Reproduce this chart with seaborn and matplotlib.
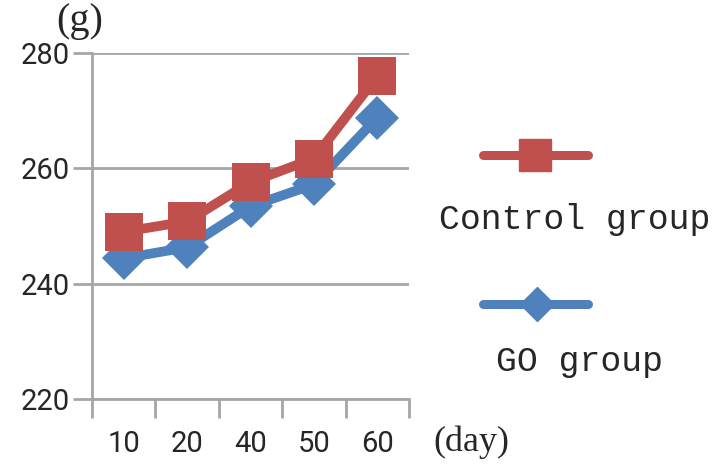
import matplotlib
matplotlib.use("Agg")
import matplotlib.pyplot as plt
import seaborn as sns
import pandas as pd
from matplotlib.lines import Line2D

days = ["10", "20", "40", "50", "60"]
control = [249.0, 250.8, 257.6, 261.7, 276.0]
go = [244.4, 246.3, 253.4, 257.2, 268.8]
series_names = ["Control group", "GO group"]
yticks = [220, 240, 260, 280]

red = "#C0504D"
blue = "#4F81BD"
grid_c = "#A6A6A6"

sns.set_style("white")
plt.rcParams["font.family"] = ["Roboto", "DejaVu Sans"]

fig = plt.figure(figsize=(7.17, 4.68), dpi=100)
ax = fig.add_axes([92/717, 1-399/468, (409-92)/717, (399-53)/468])

df = pd.DataFrame({
    "day": days * 2,
    "weight": control + go,
    "group": [series_names[0]] * len(days) + [series_names[1]] * len(days),
})

sns.lineplot(data=df[df.group == series_names[1]], x="day", y="weight", ax=ax,
             color=blue, lw=7, marker="D", markersize=22, markeredgewidth=0,
             sort=False, legend=False, zorder=3)
sns.lineplot(data=df[df.group == series_names[0]], x="day", y="weight", ax=ax,
             color=red, lw=7, marker="s", markersize=28, markeredgewidth=0,
             sort=False, legend=False, zorder=4)

ax.set_xlim(-0.5, len(days) - 0.5)
ax.set_ylim(220, 280)
ax.set_xlabel("")
ax.set_ylabel("")

# y axis
ax.set_yticks(yticks)
ax.set_yticklabels([str(v) for v in yticks], fontsize=21, family="Roboto")
ax.yaxis.grid(True, color=grid_c, lw=2)
ax.tick_params(axis="y", length=14, width=2, color=grid_c, pad=2, direction="out", left=True)

# x axis: ticks at band boundaries, labels at centers
ax.set_xticks([i - 0.5 for i in range(len(days) + 1)])
ax.set_xticklabels([""] * (len(days) + 1))
ax.set_xticks(list(range(len(days))), minor=True)
ax.set_xticklabels(days, minor=True, fontsize=21, family="Roboto")
ax.tick_params(axis="x", which="major", length=14, width=2, color=grid_c, direction="out", bottom=True)
ax.tick_params(axis="x", which="minor", length=0, pad=22)

for s in ["top", "right"]:
    ax.spines[s].set_visible(False)
for s in ["left", "bottom"]:
    ax.spines[s].set_color(grid_c)
    ax.spines[s].set_linewidth(2)

fig.text(80/717, 1-22/468, "(g)", family="Liberation Serif", fontsize=29,
         ha="center", va="center")
fig.text(471/717, 1-442/468, "(day)", family="Liberation Serif", fontsize=26,
         ha="center", va="center")

# legend
fig.add_artist(Line2D([483/717, 588/717], [1-155/468, 1-155/468], color=red, lw=6.5,
                      solid_capstyle="round"))
fig.add_artist(Line2D([535/717], [1-155/468], color=red, marker="s", markersize=23, lw=0))
fig.add_artist(Line2D([483/717, 588/717], [1-304/468, 1-304/468], color=blue, lw=6.5,
                      solid_capstyle="round"))
fig.add_artist(Line2D([537/717], [1-304/468], color=blue, marker="D", markersize=17, lw=0))
fig.text(575/717, 1-220/468, series_names[0], family="Liberation Mono", fontsize=25,
         ha="center", va="center")
fig.text(580/717, 1-362/468, series_names[1], family="Liberation Mono", fontsize=25,
         ha="center", va="center")

fig.savefig("out.png", dpi=100)
